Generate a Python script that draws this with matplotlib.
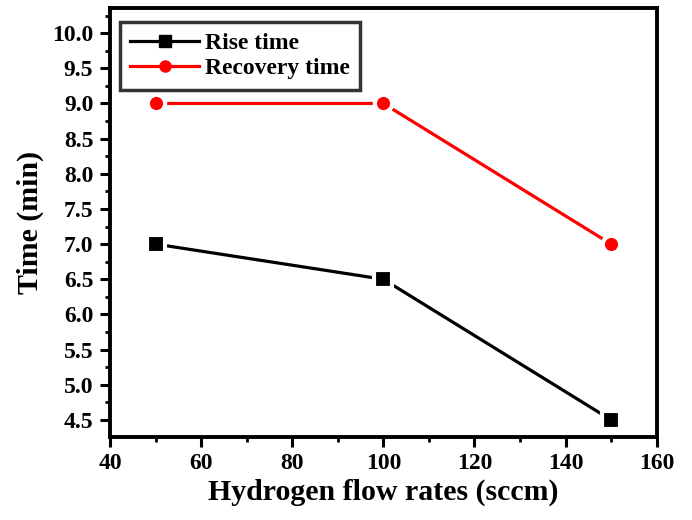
import matplotlib
matplotlib.use("Agg")
import matplotlib.pyplot as plt
from matplotlib.lines import Line2D
from matplotlib.ticker import MultipleLocator

flow = [50, 100, 150]
rise = [7.0, 6.5, 4.5]
recovery = [9.0, 9.0, 7.0]
yticks = [4.5, 5.0, 5.5, 6.0, 6.5, 7.0, 7.5, 8.0, 8.5, 9.0, 9.5, 10.0]

plt.rcParams['font.family'] = ['Liberation Serif', 'DejaVu Serif']
plt.rcParams['font.weight'] = 'bold'

fig = plt.figure(figsize=(6.92, 5.20), dpi=100)
ax = fig.add_axes([0.159, 0.160, 0.790, 0.825])

ax.plot(flow, rise, color='black', lw=2.3, zorder=2)
ax.plot(flow, rise, ls='none', marker='s', ms=12.5, mfc='black', mec='white', mew=3, zorder=3)
ax.plot(flow, recovery, color='red', lw=2.3, zorder=2)
ax.plot(flow, recovery, ls='none', marker='o', ms=12.5, mfc='red', mec='white', mew=3, zorder=3)

ax.set_xlim(40, 160)
ax.xaxis.set_major_locator(MultipleLocator(20))
ax.xaxis.set_minor_locator(MultipleLocator(10))
ax.set_yticks(yticks)
ax.set_yticklabels([f"{v:.1f}" for v in yticks])
ax.yaxis.set_minor_locator(MultipleLocator(0.25))
ax.set_ylim(4.26, 10.36)

for s in ax.spines.values():
    s.set_linewidth(2.8)
ax.tick_params(which='major', direction='out', length=7, width=2.2, labelsize=17, pad=5)
ax.tick_params(which='minor', direction='out', length=3.5, width=2.0)
for lab in ax.get_xticklabels() + ax.get_yticklabels():
    lab.set_fontweight('bold')

ax.set_xlabel('Hydrogen flow rates (sccm)', fontsize=21.5, fontweight='bold', labelpad=3)
ax.set_ylabel('Time (min)', fontsize=21.5, fontweight='bold', labelpad=6)

handles = [
    Line2D([0], [0], color='black', lw=2.3, marker='s', ms=8),
    Line2D([0], [0], color='red', lw=2.3, marker='o', ms=8),
]
leg = ax.legend(handles, ['Rise time', 'Recovery time'], loc='upper left',
                bbox_to_anchor=(0.018, 0.967), frameon=True, fancybox=False,
                prop={'family': 'Liberation Serif', 'weight': 'bold', 'size': 17},
                handlelength=2.9, handletextpad=0.25, labelspacing=0.15,
                borderpad=0.45, borderaxespad=0)
leg.get_frame().set_edgecolor('black')
leg.get_frame().set_linewidth(2.5)

fig.savefig('out.png', dpi=100)
